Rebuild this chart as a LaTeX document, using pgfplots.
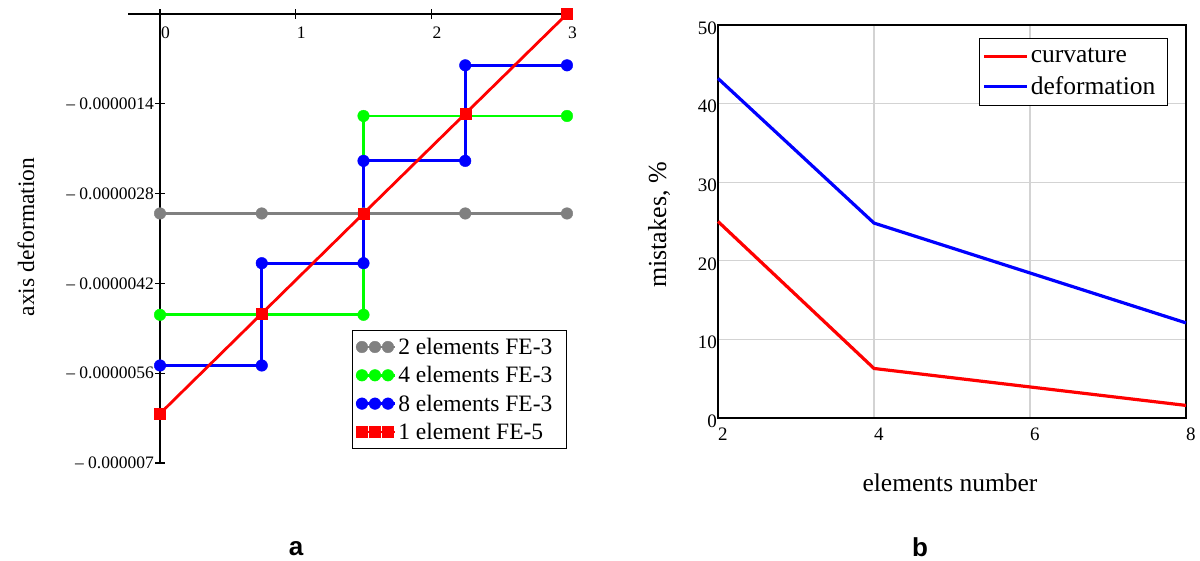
\documentclass[border=0pt]{standalone}
\usepackage{fontspec}
\setmainfont{Liberation Serif}
\newfontfamily\arialfont{Liberation Sans}
\usepackage{pgfplots}
\pgfplotsset{compat=1.18}
\definecolor{mgray}{RGB}{128,128,128}
\definecolor{mgreen}{RGB}{0,255,0}
\definecolor{mblue}{RGB}{0,0,255}
\definecolor{mred}{RGB}{255,0,0}
\definecolor{gridc}{RGB}{211,211,211}
\begin{document}
\begin{tikzpicture}
\useasboundingbox (0pt,0pt) rectangle (1200pt,561pt);
% ---------- chart a ----------
\begin{axis}[
  at={(128pt,98pt)}, anchor=south west,
  scale only axis, width=444pt, height=449pt,
  xmin=-0.236, xmax=3.037, ymin=-7e-6, ymax=0,
  axis lines=center,
  scaled y ticks=false, scaled x ticks=false,
  hide obscured x ticks=false, hide obscured y ticks=false,
  axis line style={-, line width=1.3pt, black},
  tick style={line width=1.2pt, black},
  tick align=center, major tick length=10pt,
  xtick={0,1,2,3}, xticklabels={0,1,2,3},
  ytick={-7e-6,-5.6e-6,-4.2e-6,-2.8e-6,-1.4e-6},
  yticklabels={\textendash\ 0.000007,\textendash\ 0.0000056,\textendash\ 0.0000042,\textendash\ 0.0000028,\textendash\ 0.0000014},
  xticklabel style={anchor=north west, inner sep=0pt, xshift=1pt, yshift=-8pt, font=\fontsize{17.5}{20}\selectfont},
  yticklabel style={anchor=east, inner sep=0pt, xshift=-1pt, font=\fontsize{17.5}{20}\selectfont},
  clip=false,
  legend style={at={(0.9887,0.2962)}, anchor=north east, draw=black, line width=1.2pt, fill=white,
     font=\fontsize{23.5}{26}\selectfont, inner xsep=2pt, inner ysep=5.5pt, row sep=6.5pt},
  legend cell align=left,
  legend image code/.code={\path (-6pt,0pt) -- (33pt,0pt);\draw[#1, mark repeat=1] plot coordinates {(0pt,0pt) (13pt,0pt) (26pt,0pt)};},
  every axis plot/.append style={line width=2.8pt},
]
\addplot[mgray, mark=*, mark size=5.8pt, mark options={line width=0.4pt, fill=mgray}] coordinates {
 (0,-3.11e-6) (0.75,-3.11e-6) (1.5,-3.11e-6) (2.25,-3.11e-6) (3,-3.11e-6)};
\addlegendentry{2 elements FE-3\kern10pt}
\addplot[mgreen, mark=*, mark size=5.8pt, mark options={line width=0.4pt, fill=mgreen}] coordinates {
 (0,-4.69e-6) (1.5,-4.69e-6) (1.5,-1.59e-6) (3,-1.59e-6)};
\addlegendentry{4 elements FE-3\kern10pt}
\addplot[mblue, mark=*, mark size=5.8pt, mark options={line width=0.4pt, fill=mblue}] coordinates {
 (0,-5.48e-6) (0.75,-5.48e-6) (0.75,-3.885e-6) (1.5,-3.885e-6) (1.5,-2.29e-6) (2.25,-2.29e-6) (2.25,-0.80e-6) (3,-0.80e-6)};
\addlegendentry{8 elements FE-3\kern10pt}
\addplot[mred, mark=square*, mark size=5.5pt, mark options={line width=0.4pt, fill=mred}] coordinates {
 (0,-6.23e-6) (0.75,-4.67e-6) (1.5,-3.11e-6) (2.25,-1.555e-6) (3,0)};
\addlegendentry{1 element FE-5\kern10pt}
\end{axis}
% ---------- chart b ----------
\begin{axis}[
  at={(718pt,143pt)}, anchor=south west,
  scale only axis, width=468pt, height=393pt,
  xmin=2, xmax=8, ymin=0, ymax=50,
  xtick={2,4,6,8}, ytick={0,10,20,30,40,50},
  grid=major, grid style={gridc, line width=1.2pt},
  axis line style={line width=1.3pt, black},
  major tick length=0pt,
  /pgf/number format/assume math mode=true,
  xticklabel style={anchor=north west, inner sep=0pt, yshift=-10pt, font=\fontsize{19}{22}\selectfont},
  yticklabel style={anchor=east, inner sep=0pt, xshift=-1pt, yshift=-3pt, font=\fontsize{19}{22}\selectfont},
  clip=false,
  legend style={at={(0.9615,0.967)}, anchor=north east, draw=black, line width=1.2pt, fill=white,
     font=\fontsize{25.5}{30}\selectfont, inner xsep=3pt, inner ysep=8pt, row sep=8pt},
  legend cell align=left,
  legend image code/.code={\path (-3pt,0pt) -- (40pt,0pt);\draw[#1] (0pt,0pt) -- (38pt,0pt);},
  every axis plot/.append style={line width=3.2pt},
]
\addplot[mred] coordinates {(2,25.0) (4,6.3) (8,1.6)};
\addlegendentry{curvature}
\addplot[mblue] coordinates {(2,43.2) (4,24.8) (8,12.1)};
\addlegendentry{deformation\kern7pt}
\end{axis}
% ---------- labels ----------
\node[rotate=90, font=\fontsize{23.5}{28}\selectfont] at (26pt,324pt) {axis deformation};
\node[rotate=90, font=\fontsize{26}{30}\selectfont] at (659pt,336pt) {mistakes, \%};
\node[anchor=base, font=\fontsize{25.5}{30}\selectfont] at (950pt,69pt) {elements number};
\node[anchor=base, font=\arialfont\bfseries\fontsize{26}{30}\selectfont] at (296pt,5pt) {a};
\node[anchor=base, font=\arialfont\bfseries\fontsize{26}{30}\selectfont] at (920pt,4pt) {b};
\end{tikzpicture}
\end{document}
